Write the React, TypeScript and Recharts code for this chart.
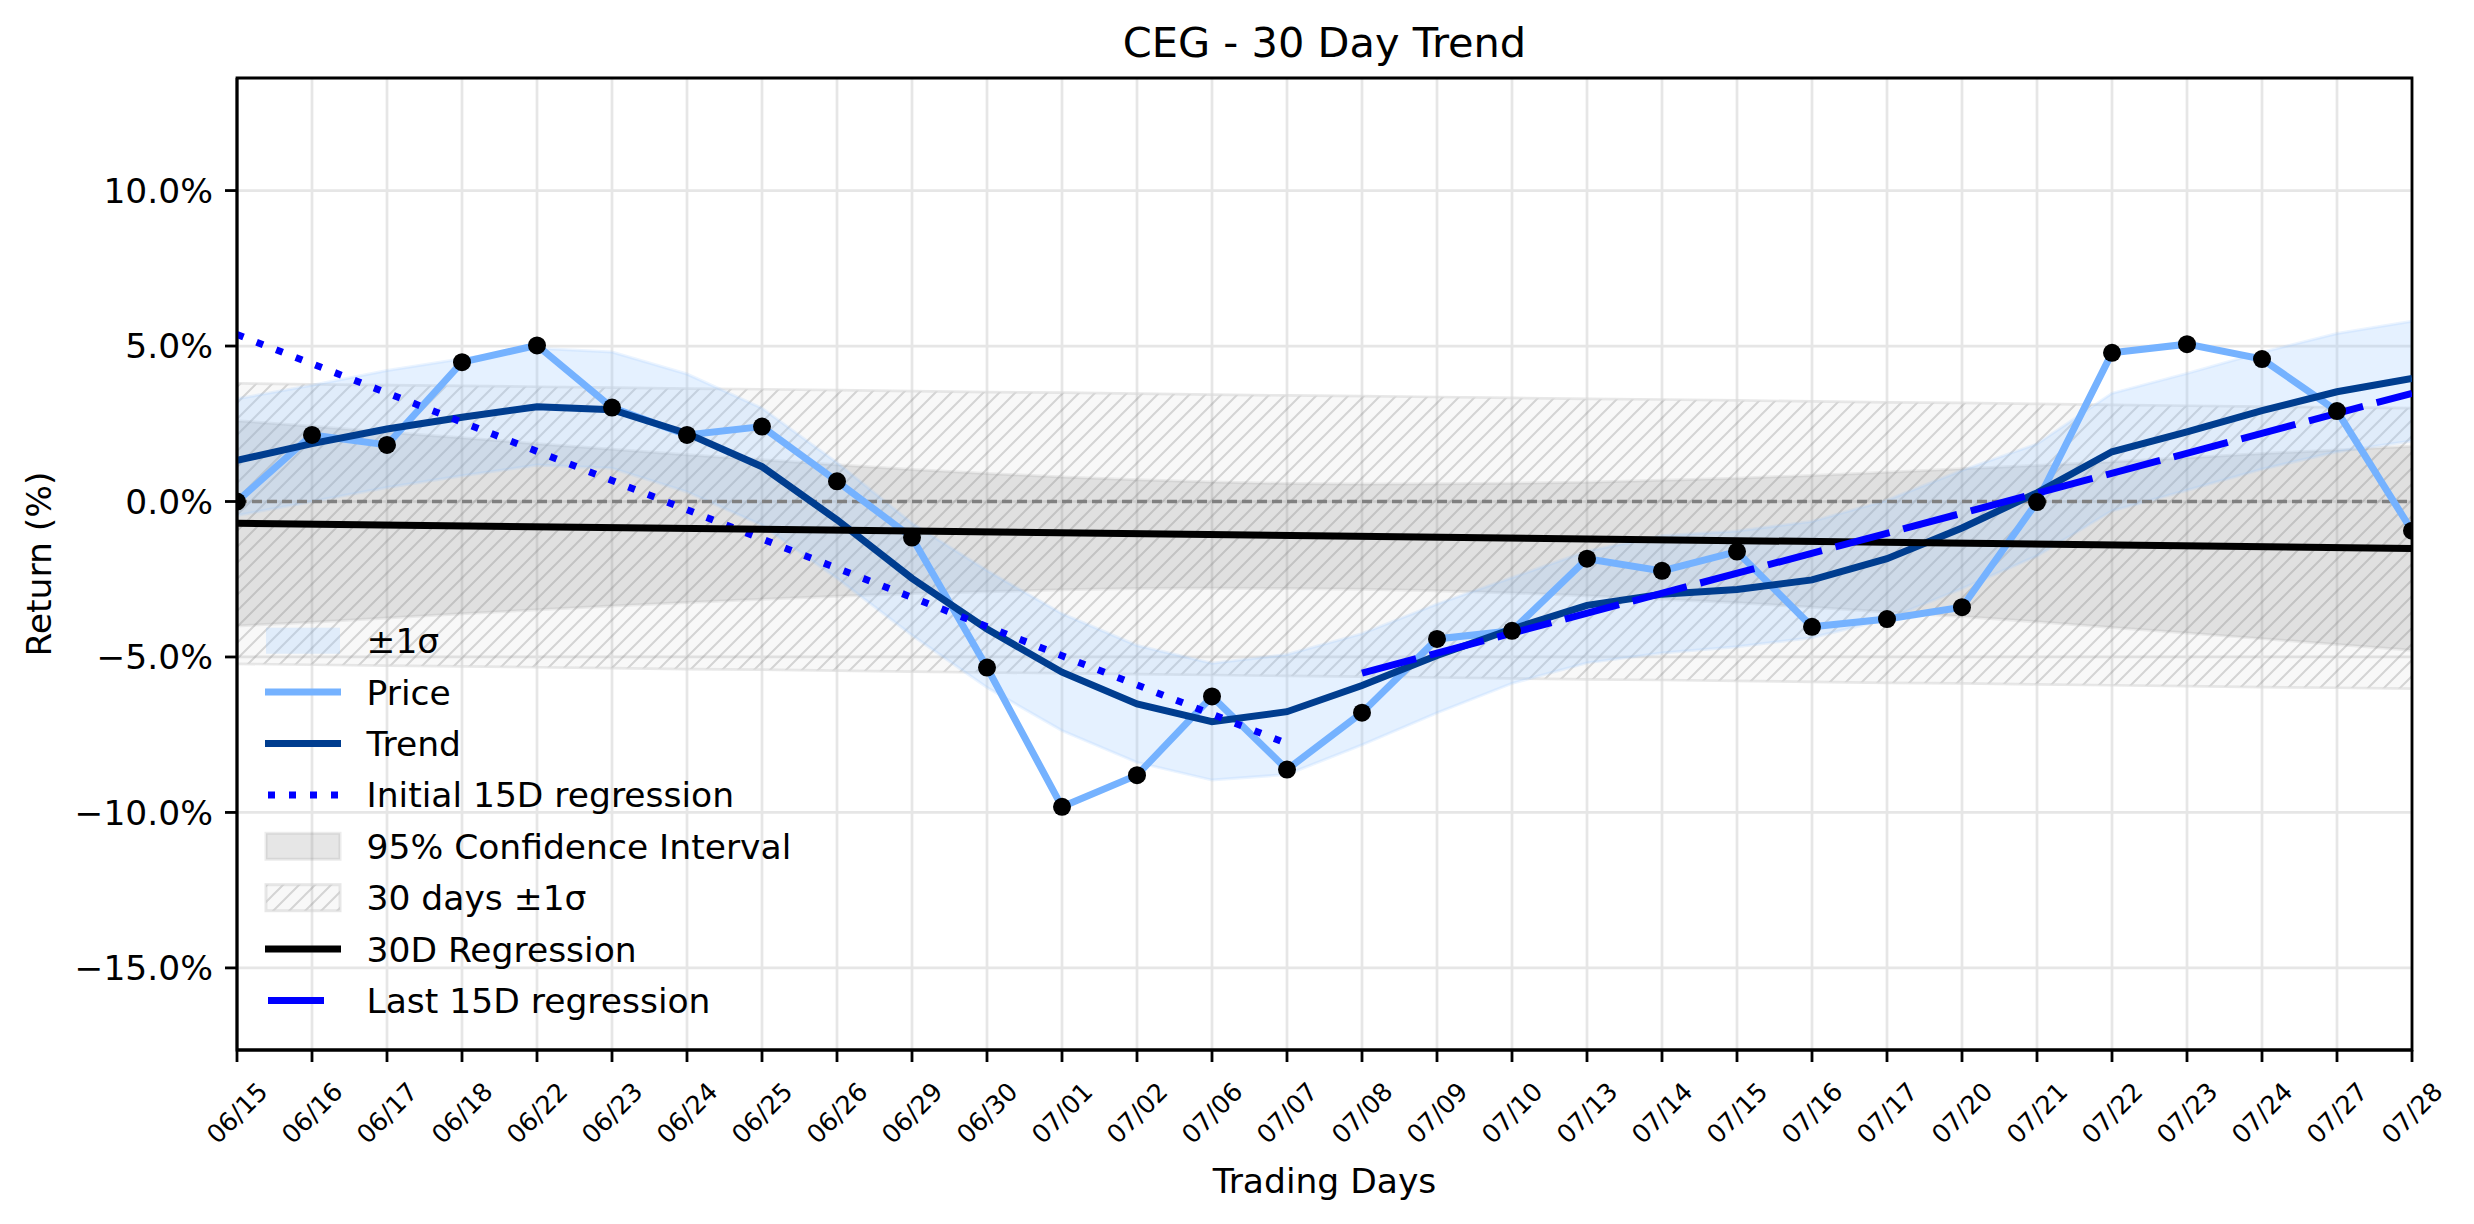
import { ComposedChart, Area, Line, XAxis, YAxis, CartesianGrid, ReferenceLine, ReferenceArea } from 'recharts';

// trading days on the x axis
const dates = ['06/15', '06/16', '06/17', '06/18', '06/22', '06/23', '06/24', '06/25', '06/26', '06/29',
  '06/30', '07/01', '07/02', '07/06', '07/07', '07/08', '07/09', '07/10', '07/13', '07/14',
  '07/15', '07/16', '07/17', '07/20', '07/21', '07/22', '07/23', '07/24', '07/27', '07/28'];

// cumulative return in %
const price = [0.00, 2.14, 1.82, 4.48, 5.02, 3.02, 2.14, 2.41, 0.65, -1.16,
  -5.34, -9.82, -8.80, -6.27, -8.62, -6.79, -4.42, -4.16, -1.84, -2.23,
  -1.61, -4.03, -3.78, -3.40, -0.02, 4.78, 5.06, 4.58, 2.91, -0.94];

const trend = [1.32, 1.86, 2.33, 2.71, 3.05, 2.95, 2.19, 1.12, -0.59, -2.47,
  -4.10, -5.49, -6.51, -7.08, -6.76, -5.92, -4.95, -4.10, -3.34, -2.98,
  -2.83, -2.52, -1.84, -0.85, 0.28, 1.60, 2.24, 2.92, 3.53, 3.96];

// +-1 sigma band around the trend
const sigmaUpper = [3.30, 3.74, 4.21, 4.59, 4.93, 4.81, 4.10, 3.00, 1.25, -0.70,
  -2.22, -3.61, -4.63, -5.20, -4.92, -4.25, -3.30, -2.45, -1.60, -1.10,
  -0.95, -0.64, 0.04, 1.00, 1.85, 3.48, 4.12, 4.80, 5.40, 5.80];
const sigmaLower = [-0.45, 0.00, 0.45, 0.83, 1.17, 1.07, 0.31, -0.76, -2.47, -4.30,
  -5.98, -7.37, -8.39, -8.96, -8.78, -7.83, -6.80, -5.85, -5.19, -4.87,
  -4.67, -4.38, -3.78, -2.80, -1.75, -0.30, 0.36, 1.04, 1.60, 1.95];

// 95% confidence interval of the 30D regression
const ciUpper = [2.60, 2.42, 2.23, 2.05, 1.86, 1.68, 1.50, 1.34, 1.18, 1.03,
  0.90, 0.79, 0.70, 0.63, 0.58, 0.56, 0.57, 0.59, 0.62, 0.68,
  0.75, 0.84, 0.94, 1.05, 1.16, 1.28, 1.41, 1.54, 1.66, 1.78];
const ciLower = [-4.00, -3.88, -3.75, -3.61, -3.48, -3.36, -3.25, -3.14, -3.05, -2.96,
  -2.90, -2.84, -2.80, -2.79, -2.80, -2.82, -2.87, -2.94, -3.03, -3.14,
  -3.26, -3.40, -3.55, -3.70, -3.87, -4.05, -4.23, -4.41, -4.60, -4.78];

// 30 days +-1 sigma (hatched)
const band30Upper = [3.80, 3.77, 3.74, 3.72, 3.69, 3.66, 3.63, 3.61, 3.58, 3.55,
  3.52, 3.50, 3.47, 3.44, 3.41, 3.39, 3.36, 3.33, 3.30, 3.28,
  3.25, 3.22, 3.19, 3.17, 3.14, 3.11, 3.08, 3.05, 3.03, 3.00];
const band30Lower = [-5.22, -5.25, -5.28, -5.30, -5.33, -5.36, -5.39, -5.41, -5.44, -5.47,
  -5.50, -5.52, -5.55, -5.58, -5.61, -5.63, -5.66, -5.69, -5.72, -5.74,
  -5.77, -5.80, -5.83, -5.85, -5.88, -5.91, -5.94, -5.97, -5.99, -6.02];

// regression line end points [start, end]
const reg30Ends = [-0.70, -1.51];
const initialRegEnds = [5.37, -7.78]; // 06/15 -> 07/07
const lastRegEnds = [-5.52, 3.48]; // 07/08 -> 07/28

const yTicks = [-15, -10, -5, 0, 5, 10];

const last = dates.length - 1;
const data = dates.map((d, i) => ({
  idx: i,
  price: price[i],
  trend: trend[i],
  sigma: [sigmaLower[i], sigmaUpper[i]],
  ci: [ciLower[i], ciUpper[i]],
  band30: [band30Lower[i], band30Upper[i]],
  reg30: i === 0 ? reg30Ends[0] : i === last ? reg30Ends[1] : null,
  initReg: i === 0 ? initialRegEnds[0] : i === 14 ? initialRegEnds[1] : null,
  lastReg: i === 15 ? lastRegEnds[0] : i === last ? lastRegEnds[1] : null,
}));

const FONT = '"DejaVu Sans", sans-serif';
const PRICE_COLOR = '#75b2ff';
const TREND_COLOR = '#003d8f';

const fmtPct = (v: number) => (v < 0 ? '\u2212' : '') + Math.abs(v).toFixed(1) + '%';

const DateTick = (props: any) => {
  const { x, y, payload } = props;
  const cy = y + 51;
  return (
    <text x={x} y={cy} textAnchor="middle" dominantBaseline="central" fontSize={25.5}
      fontFamily={FONT} fill="#000" transform={`rotate(-45 ${x} ${cy})`}>
      {dates[payload.value]}
    </text>
  );
};

const legendItems = [
  { label: '\u00b11\u03c3', kind: 'sigma' },
  { label: 'Price', kind: 'price' },
  { label: 'Trend', kind: 'trend' },
  { label: 'Initial 15D regression', kind: 'dotted' },
  { label: '95% Confidence Interval', kind: 'ci' },
  { label: '30 days \u00b11\u03c3', kind: 'hatch' },
  { label: '30D Regression', kind: 'reg' },
  { label: 'Last 15D regression', kind: 'dashed' },
];

function Handle({ kind, y }: { kind: string; y: number }) {
  const x1 = 266, x2 = 340;
  if (kind === 'sigma') return <rect x={x1} y={y - 13} width={x2 - x1} height={26} fill="#99c8ff" fillOpacity={0.25} />;
  if (kind === 'ci') return <rect x={x1} y={y - 13} width={x2 - x1} height={26} fill="#808080" fillOpacity={0.2} stroke="#808080" strokeOpacity={0.15} strokeWidth={3} />;
  if (kind === 'hatch') return <rect x={x1} y={y - 13} width={x2 - x1} height={26} fill="url(#hatch30)" stroke="#d0d0d0" strokeOpacity={0.5} strokeWidth={3} />;
  if (kind === 'price') return <line x1={x1 - 1} x2={x2 + 1} y1={y} y2={y} stroke={PRICE_COLOR} strokeWidth={7} />;
  if (kind === 'trend') return <line x1={x1 - 1} x2={x2 + 1} y1={y} y2={y} stroke={TREND_COLOR} strokeWidth={7} />;
  if (kind === 'reg') return <line x1={x1 - 1} x2={x2 + 1} y1={y} y2={y} stroke="#000" strokeWidth={7} />;
  if (kind === 'dotted') return <line x1={x1 + 2} x2={x2} y1={y} y2={y} stroke="#0000ff" strokeWidth={7} strokeDasharray="7 14" />;
  return <line x1={x1 + 2} x2={x1 + 58} y1={y} y2={y} stroke="#0000ff" strokeWidth={7} />;
}

export default function App() {
  return (
    <div style={{ position: 'relative', width: 2474, height: 1224, background: '#fff' }}>
      <style>{'body{margin:0}'}</style>
      <svg width={0} height={0} style={{ position: 'absolute' }}>
        <defs>
          <pattern id="hatch30" patternUnits="userSpaceOnUse" width={16} height={16}>
            <rect width={16} height={16} fill="#808080" fillOpacity={0.06} />
            <path d="M-4,4 L4,-4 M0,16 L16,0 M12,20 L20,12" stroke="#808080" strokeOpacity={0.3} strokeWidth={2} />
          </pattern>
        </defs>
      </svg>
      <ComposedChart width={2474} height={1224} data={data}
        margin={{ top: 78, right: 62, bottom: 0, left: 0 }} style={{ fontFamily: FONT }}>
        <CartesianGrid stroke="#e6e6e6" strokeWidth={2.7} />
        <XAxis dataKey="idx" type="number" domain={[0, last]} ticks={dates.map((_, i) => i)} interval={0}
          allowDataOverflow height={174} tick={<DateTick />} tickSize={12} tickMargin={0}
          axisLine={{ stroke: '#000', strokeWidth: 2.8 }} tickLine={{ stroke: '#000', strokeWidth: 2.8 }} />
        <YAxis type="number" domain={[-17.64, 13.62]} ticks={yTicks} allowDataOverflow width={237}
          tickFormatter={fmtPct} tickSize={12} tickMargin={12}
          tick={{ fontSize: 34.5, fill: '#000', fontFamily: FONT }}
          axisLine={{ stroke: '#000', strokeWidth: 2.8 }} tickLine={{ stroke: '#000', strokeWidth: 2.8 }} />
        <Area type="linear" dataKey="band30" fill="url(#hatch30)" fillOpacity={1} stroke="#d8d8d8"
          strokeWidth={2.7} strokeOpacity={0.6} isAnimationActive={false} activeDot={false} />
        <Area type="linear" dataKey="ci" fill="#808080" fillOpacity={0.2} stroke="#808080"
          strokeOpacity={0.12} strokeWidth={3} isAnimationActive={false} activeDot={false} />
        <Area type="linear" dataKey="sigma" fill="#99c8ff" fillOpacity={0.25} stroke="#99c8ff"
          strokeOpacity={0.2} strokeWidth={3} isAnimationActive={false} activeDot={false} />
        <ReferenceLine y={0} stroke="#808080" strokeWidth={3.3} strokeDasharray="10 5" />
        <Line type="linear" dataKey="price" stroke={PRICE_COLOR} strokeWidth={7} dot={false}
          activeDot={false} isAnimationActive={false} />
        <Line type="linear" dataKey="trend" stroke={TREND_COLOR} strokeWidth={7} dot={false}
          activeDot={false} isAnimationActive={false} />
        <Line type="linear" dataKey="initReg" stroke="#0000ff" strokeWidth={7} strokeDasharray="7 14"
          connectNulls dot={false} activeDot={false} isAnimationActive={false} />
        <Line type="linear" dataKey="reg30" stroke="#000" strokeWidth={7} connectNulls dot={false}
          activeDot={false} isAnimationActive={false} />
        <Line type="linear" dataKey="lastReg" stroke="#0000ff" strokeWidth={7} strokeDasharray="56 14"
          connectNulls dot={false} activeDot={false} isAnimationActive={false} />
        <Line type="linear" dataKey="price" stroke="none" dot={{ r: 9, fill: '#000', stroke: 'none' }}
          activeDot={false} isAnimationActive={false} />
        <ReferenceArea x1={0} x2={last} y1={-17.64} y2={13.62} fill="none" stroke="#000" strokeWidth={2.8}
          ifOverflow="visible" />
      </ComposedChart>
      <svg width={2474} height={1224} style={{ position: 'absolute', left: 0, top: 0, pointerEvents: 'none' }}
        fontFamily={FONT}>
        <text x={1324.5} y={57} textAnchor="middle" fontSize={41.5} fill="#000">CEG - 30 Day Trend</text>
        <text x={1324.5} y={1193} textAnchor="middle" fontSize={34.5} fill="#000">Trading Days</text>
        <text x={51} y={564} textAnchor="middle" fontSize={34.5} fill="#000" transform="rotate(-90 51 564)">Return (%)</text>
        {legendItems.map((it, i) => {
          const y = 640.7 + i * 51.4;
          return (
            <g key={it.kind}>
              <Handle kind={it.kind} y={y} />
              <text x={366.5} y={y + 12.5} fontSize={34.5} fill="#000">{it.label}</text>
            </g>
          );
        })}
      </svg>
    </div>
  );
}
